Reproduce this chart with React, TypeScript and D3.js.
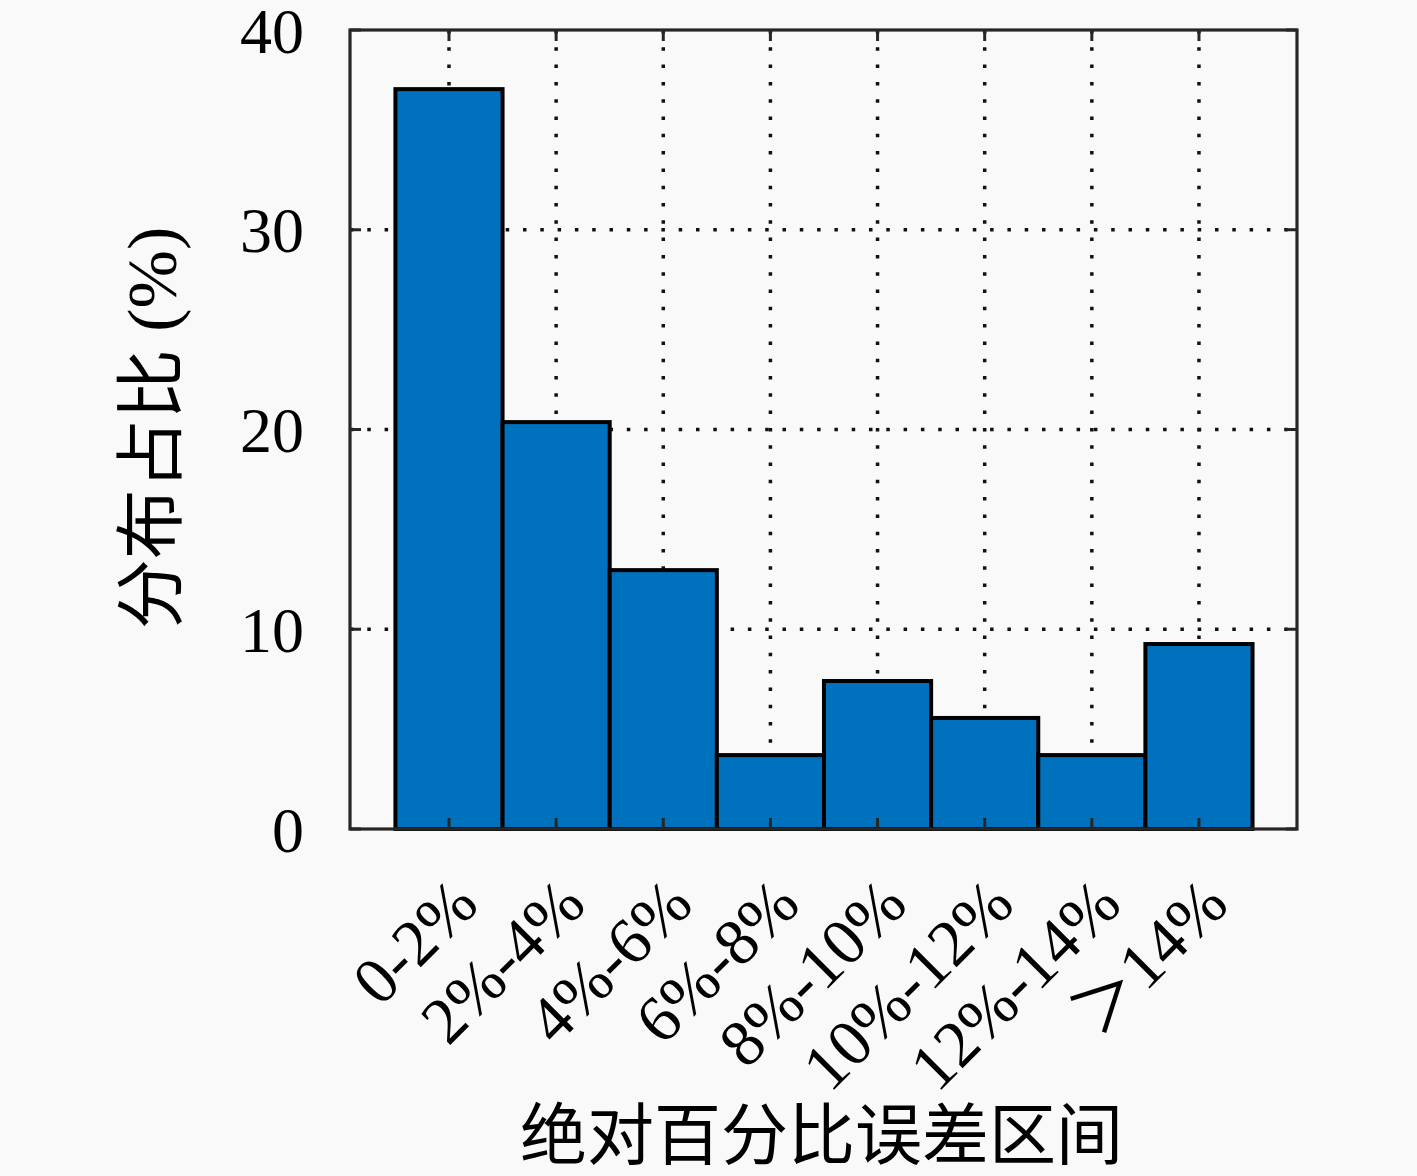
import React, { useEffect, useRef } from 'react';
import * as d3 from 'd3';

const categories = ['0-2%', '2%-4%', '4%-6%', '6%-8%', '8%-10%', '10%-12%', '12%-14%', '＞14%'];
const shares = [37.04, 20.37, 12.96, 3.7, 7.41, 5.56, 3.7, 9.26];
const yTicks = [0, 10, 20, 30, 40];

const xTitle = '绝对百分比误差区间';
const yTitle = '分布占比 (%)';

const App: React.FC = () => {
    const svgRef = useRef<SVGSVGElement>(null);
    const width = 1417;
    const height = 1176;

    useEffect(() => {
        const svg = d3.select(svgRef.current);
        svg.selectAll('*').remove();

        const margin = { top: 30, right: 120, bottom: 347, left: 350 };
        const innerWidth = width - margin.left - margin.right;
        const innerHeight = height - margin.top - margin.bottom;
        const axisColor = '#262626';
        const serif = '"Liberation Serif", "Noto Sans CJK SC", serif';

        svg.append('rect')
            .attr('width', width)
            .attr('height', height)
            .attr('fill', '#f9f9f9');

        const g = svg.append('g')
            .attr('transform', `translate(${margin.left},${margin.top})`);

        const idx = categories.map((_, i) => i + 1);

        const x = d3.scaleLinear()
            .domain([0.076, 8.915])
            .range([0, innerWidth]);

        const y = d3.scaleLinear()
            .domain([0, 40])
            .range([innerHeight, 0]);

        // grid (dotted, under the bars)
        const grid = g.append('g')
            .attr('stroke', '#111')
            .attr('stroke-width', 3.5)
            .attr('stroke-dasharray', '3.5,13.8');

        grid.selectAll('.vgrid')
            .data(idx)
            .enter()
            .append('line')
            .attr('x1', d => x(d))
            .attr('x2', d => x(d))
            .attr('y1', 0)
            .attr('y2', innerHeight);

        grid.selectAll('.hgrid')
            .data(yTicks.slice(1, -1))
            .enter()
            .append('line')
            .attr('x1', 0)
            .attr('x2', innerWidth)
            .attr('y1', d => y(d))
            .attr('y2', d => y(d));

        // bars
        g.selectAll('.bar')
            .data(shares)
            .enter()
            .append('rect')
            .attr('class', 'bar')
            .attr('x', (_, i) => x(idx[i] - 0.5))
            .attr('width', x(1.5) - x(0.5))
            .attr('y', d => y(d))
            .attr('height', d => innerHeight - y(d))
            .attr('fill', '#0072BD')
            .attr('stroke', '#000')
            .attr('stroke-width', 4);

        // inside ticks on all four sides
        const tickLen = 11;
        const ticks = g.append('g')
            .attr('stroke', axisColor)
            .attr('stroke-width', 3);

        idx.forEach(d => {
            ticks.append('line')
                .attr('x1', x(d)).attr('x2', x(d))
                .attr('y1', innerHeight).attr('y2', innerHeight - tickLen);
            ticks.append('line')
                .attr('x1', x(d)).attr('x2', x(d))
                .attr('y1', 0).attr('y2', tickLen);
        });
        yTicks.forEach(d => {
            ticks.append('line')
                .attr('x1', 0).attr('x2', tickLen)
                .attr('y1', y(d)).attr('y2', y(d));
            ticks.append('line')
                .attr('x1', innerWidth).attr('x2', innerWidth - tickLen)
                .attr('y1', y(d)).attr('y2', y(d));
        });

        // box
        g.append('rect')
            .attr('x', 0)
            .attr('y', 0)
            .attr('width', innerWidth)
            .attr('height', innerHeight)
            .attr('fill', 'none')
            .attr('stroke', axisColor)
            .attr('stroke-width', 3.2);

        // y tick labels
        g.selectAll('.ylabel')
            .data(yTicks)
            .enter()
            .append('text')
            .attr('x', -46)
            .attr('y', d => y(d) + 1)
            .attr('text-anchor', 'end')
            .attr('dominant-baseline', 'central')
            .style('font-family', serif)
            .style('font-size', '64px')
            .style('fill', '#000')
            .text(d => d);

        // x tick labels, rotated
        g.selectAll('.xlabel')
            .data(categories)
            .enter()
            .append('text')
            .attr('transform', (_, i) => `translate(${x(idx[i]) + 32},${innerHeight + 78}) rotate(-45)`)
            .attr('text-anchor', 'end')
            .style('font-family', serif)
            .style('font-size', '66px')
            .style('fill', '#000')
            .text(d => d);

        // axis titles
        svg.append('text')
            .attr('x', margin.left + innerWidth / 2 - 2)
            .attr('y', 1136)
            .attr('text-anchor', 'middle')
            .attr('dominant-baseline', 'central')
            .style('font-family', serif)
            .style('font-size', '67px')
            .style('fill', '#000')
            .text(xTitle);

        svg.append('text')
            .attr('transform', `translate(152,428) rotate(-90)`)
            .attr('text-anchor', 'middle')
            .attr('dominant-baseline', 'central')
            .style('font-family', serif)
            .style('font-size', '70px')
            .style('fill', '#000')
            .text(yTitle);
    }, []);

    return (
        <div style={{ position: 'absolute', left: 0, top: 0 }}>
            <svg ref={svgRef} width={width} height={height}></svg>
        </div>
    );
};

export default App;
